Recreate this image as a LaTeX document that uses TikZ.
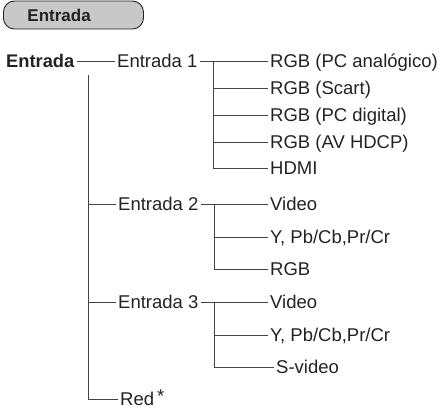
\documentclass[tikz,border=0pt]{standalone}
\usepackage{fontspec}
\setmainfont{Liberation Sans}
\definecolor{txt}{HTML}{222222}
\definecolor{ln}{HTML}{444444}
\definecolor{hdrfill}{HTML}{C8C8C8}
\begin{document}
\begin{tikzpicture}[x=1pt,y=-1pt,
  lbl/.style={anchor=west, inner xsep=2pt, inner ysep=0pt, text height=13pt, text depth=0pt,
    font=\fontsize{18.5}{20}\selectfont, text=txt},
  boldlbl/.style={lbl, font=\fontsize{18.3}{20}\selectfont\bfseries},
  conn/.style={draw=ln, line width=0.9pt},
  hdrbox/.style={anchor=west, draw=txt, line width=0.9pt, fill=hdrfill, rounded corners=11pt,
    inner xsep=0pt, inner ysep=0pt, minimum height=28pt, text width=140pt, align=left,
    text height=12pt, text depth=0pt, font=\fontsize{17}{18}\selectfont\bfseries, text=txt}]
\useasboundingbox (0,0) rectangle (442,408);

% header
\node[hdrbox] (hdr) at (3,15) {\hspace*{24pt}Entrada};

% level 0 and 1
\node[boldlbl] (root) at (4,61) {Entrada};
\node[lbl] (e1) at (115,61) {Entrada 1};
\node[lbl] (e2) at (116,204) {Entrada 2};
\node[lbl] (e3) at (116,302) {Entrada 3};
\node[lbl] (red) at (118,399) {Red\hspace{3pt}\raisebox{3pt}{*}};

% Entrada 1 children
\node[lbl] (c11) at (268,61) {RGB (PC analógico)};
\node[lbl] (c12) at (268,88) {RGB (Scart)};
\node[lbl] (c13) at (268,115) {RGB (PC digital)};
\node[lbl] (c14) at (268,142) {RGB (AV HDCP)};
\node[lbl] (c15) at (268,168) {HDMI};

% Entrada 2 children
\node[lbl] (c21) at (268,204) {Video};
\node[lbl] (c22) at (268,237) {Y, Pb/Cb,Pr/Cr};
\node[lbl] (c23) at (268,269) {RGB};

% Entrada 3 children
\node[lbl] (c31) at (268,302) {Video};
\node[lbl] (c32) at (268,335) {Y, Pb/Cb,Pr/Cr};
\node[lbl] (c33) at (274,367) {S-video};

% bar coordinates
\coordinate (m0) at (88,75);
\coordinate (b1) at (213,61);
\coordinate (b2) at (214,204);
\coordinate (b3) at (214,302);

% connectors
\draw[conn] (root) -- (e1);
\draw[conn] (m0) |- (red);
\draw[conn] (m0 |- e2) -- (e2);
\draw[conn] (m0 |- e3) -- (e3);

\draw[conn] (e1) -- (c11);
\draw[conn] (b1) |- (c15);
\foreach \c in {c12,c13,c14} \draw[conn] (b1 |- \c) -- (\c);

\draw[conn] (e2) -- (c21);
\draw[conn] (b2) |- (c23);
\draw[conn] (b2 |- c22) -- (c22);

\draw[conn] (e3) -- (c31);
\draw[conn] (b3) |- (c33);
\draw[conn] (b3 |- c32) -- (c32);
\end{tikzpicture}
\end{document}
